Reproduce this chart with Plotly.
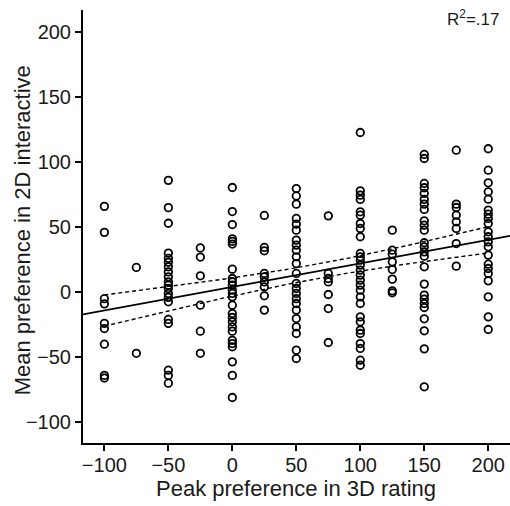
import numpy as np
import plotly.graph_objects as go

# Peak preference in the 3D rating task (discrete rating levels)
rating_levels = [-100, -75, -50, -25, 0, 25, 50, 75, 100, 125, 150, 175, 200]

# Mean preference in the 2D interactive task, one list per rating level
preferences = [
    [66, 46, -5, -9, -24, -28, -40, -64, -66],
    [19, -47],
    [86, 65, 53, 30, 26, 23, 19.5, 15.6, 11.8, 7.9, 5.4, 2.8, -1, -4, -7.4,
     -21, -24, -60, -64, -70],
    [34, 27, 12.6, -10, -30, -47],
    [80.5, 62, 52, 41, 39, 37, 17.7, 10.5, 8, 5.4, 1.5, -1, -3.6, -10, -16.4,
     -19.5, -22.8, -26.7, -30, -37, -39.5, -42, -53.6, -64, -81],
    [59, 34.4, 31.8, 14.4, 11.8, 7.9, 4, -2.8, -13.8],
    [79.7, 74, 67.7, 56.7, 52.3, 47.7, 40, 36.2, 32.3, 27.2, 22, 14.4, 6.7,
     2.8, -1, -5, -8.7, -13.8, -20.3, -26.7, -31.8, -44.6, -51],
    [58.7, 14.4, 10.5, 7.9, -1.8, -12.6, -38.7],
    [122.8, 77.9, 74.6, 71.3, 61.8, 59.2, 52.8, 49, 42.6, 29.8, 27.2, 24.6,
     20.8, 16.9, 13.1, 9.2, 5.4, 1.5, -3.6, -8.7, -19, -22.8, -29.2, -31.8,
     -39.5, -43.3, -52.3, -56.2],
    [47.7, 32.3, 29.2, 23.3, 17.4, 10, 1, -0.5],
    [105.9, 102.8, 83.6, 80.3, 75.9, 71.3, 67.7, 63.6, 54.9, 51.5, 47.7, 38,
     34.9, 31, 27.7, 19.5, 6.2, -2.3, -5.4, -8.7, -11.8, -20.5, -29.7, -43.6,
     -72.8],
    [109.2, 67.7, 65.1, 59.2, 54.1, 49, 37.4, 20],
    [110.3, 93.8, 84.1, 77.2, 71.5, 63.1, 60, 56.7, 52.8, 46.4, 42.6, 38.7,
     34.9, 28.5, 21.5, 18.2, 14.4, 8.7, -3.6, -19, -28.7],
]

tick_values = [-100, -50, 0, 50, 100, 150, 200]
x_title = "Peak preference in 3D rating"
y_title = "Mean preference in 2D interactive"
r_squared_label = "R<sup>2</sup>=.17"

x_range = [-116.7, 217]
y_range = [-116, 217]

# Flatten into paired observations
x = np.concatenate([[lvl] * len(vals) for lvl, vals in zip(rating_levels, preferences)])
y = np.concatenate([np.asarray(v, dtype=float) for v in preferences])

# Ordinary least squares fit with a 95% confidence band for the mean
slope, intercept = np.polyfit(x, y, 1)
n = len(x)
resid = y - (intercept + slope * x)
s = np.sqrt(np.sum(resid ** 2) / (n - 2))
x_mean = x.mean()
sxx = np.sum((x - x_mean) ** 2)
t_crit = 1.972

x_line = np.array(x_range)
y_line = intercept + slope * x_line

x_band = np.linspace(min(rating_levels), max(rating_levels), 100)
y_band = intercept + slope * x_band
half = t_crit * s * np.sqrt(1 / n + (x_band - x_mean) ** 2 / sxx)

font_family = "Liberation Sans, Arial, Helvetica, sans-serif"
ink = "#1a1a1a"

fig = go.Figure()

for sign in (1, -1):
    fig.add_trace(go.Scatter(
        x=x_band, y=y_band + sign * half, mode="lines",
        line=dict(color="black", width=1.4, dash="4px,3px"),
        hoverinfo="skip", showlegend=False,
    ))
fig.add_trace(go.Scatter(
    x=x_line, y=y_line, mode="lines",
    line=dict(color="black", width=1.8),
    hoverinfo="skip", showlegend=False,
))
fig.add_trace(go.Scatter(
    x=x, y=y, mode="markers",
    marker=dict(symbol="circle-open", size=7.5, color="black",
                line=dict(color="black", width=1.8)),
    showlegend=False,
))

axis_common = dict(
    showgrid=False, zeroline=False,
    showline=True, linecolor="black", linewidth=2,
    ticks="outside", ticklen=6, tickwidth=1.5, tickcolor="black",
    tickfont=dict(family=font_family, size=20, color=ink),
    tickmode="array", tickvals=tick_values,
)

fig.update_layout(
    width=510, height=506,
    margin=dict(l=83, r=0, t=10, b=63),
    paper_bgcolor="white", plot_bgcolor="white",
    font=dict(family=font_family, color=ink),
    xaxis=dict(range=x_range, ticklabelstandoff=-3, **axis_common),
    yaxis=dict(range=y_range, **axis_common),
    annotations=[
        dict(text=x_title, xref="paper", yref="paper",
             x=0.4988, y=-0.106, xanchor="center", yanchor="middle",
             showarrow=False, font=dict(family=font_family, size=22, color=ink)),
        dict(text=y_title, xref="paper", yref="paper", textangle=-90,
             x=-0.143, y=0.491, xanchor="center", yanchor="middle",
             showarrow=False, font=dict(family=font_family, size=22, color=ink)),
        dict(text=r_squared_label, xref="paper", yref="paper",
             x=0.848, y=0.981, xanchor="left", yanchor="middle",
             showarrow=False, font=dict(family=font_family, size=17, color=ink)),
    ],
)

fig.write_html("out.html")
